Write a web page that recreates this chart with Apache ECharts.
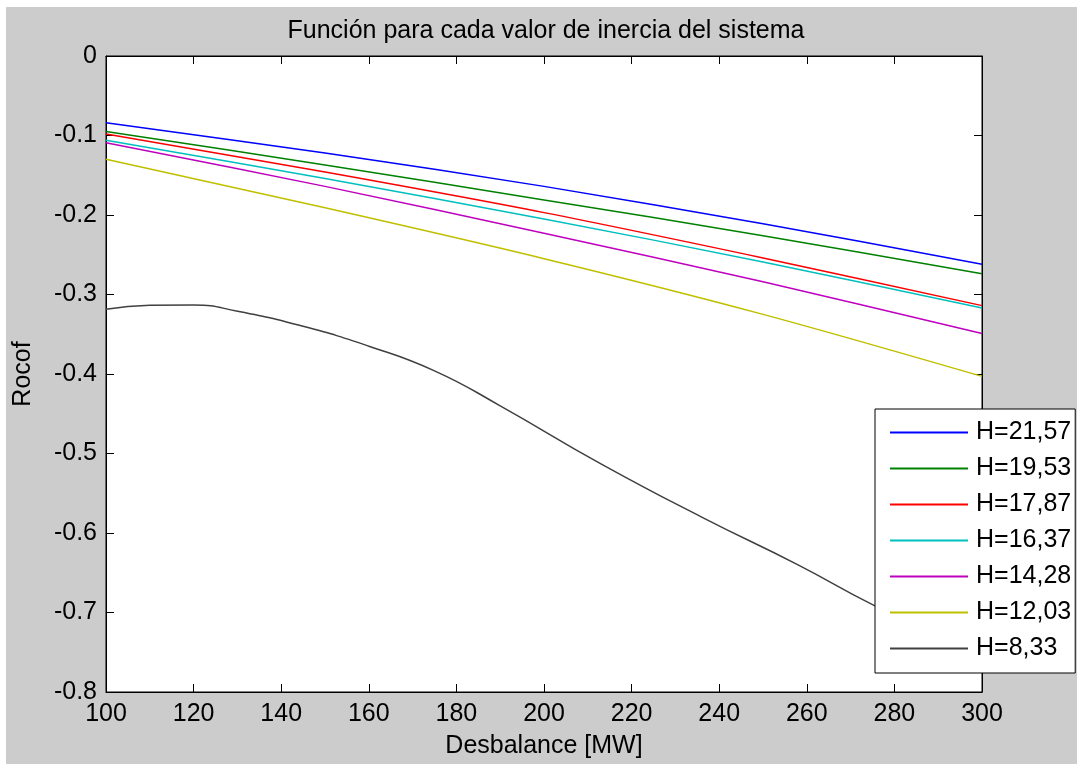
<!DOCTYPE html>
<html>
<head>
<meta charset="utf-8">
<script src="https://cdn.jsdelivr.net/npm/echarts@6/dist/echarts.min.js"></script>
<style>
  html, body { margin: 0; padding: 0; }
  #main { width: 1077px; height: 764px; }
</style>
</head>
<body>
<div id="main"></div>
<script>
// Desbalance [MW] en el que se leyeron las curvas
var desbalance = [100, 150, 200, 250, 300];
var h2157 = [-0.084, -0.122, -0.164, -0.211, -0.262];
var h1953 = [-0.095, -0.137, -0.181, -0.226, -0.274];
var h1787 = [-0.098, -0.146, -0.197, -0.254, -0.314];
var h1637 = [-0.106, -0.154, -0.205, -0.259, -0.317];
var h1428 = [-0.109, -0.164, -0.223, -0.284, -0.349];
var h1203 = [-0.130, -0.191, -0.255, -0.325, -0.403];

// curva H=8,33 (no lineal)
var desbalance833 = [100, 110, 120, 130, 145, 160, 175, 190, 213, 236, 258, 275, 300];
var h833 = [-0.3185, -0.3135, -0.3131, -0.321, -0.340, -0.365, -0.396, -0.440, -0.513, -0.580, -0.640, -0.690, -0.755];

var nombres = ['H=21,57', 'H=19,53', 'H=17,87', 'H=16,37', 'H=14,28', 'H=12,03', 'H=8,33'];
var colores = ['#0000ff', '#008000', '#ff0000', '#00bfbf', '#bf00bf', '#bfbf00', '#404040'];
var xTicks = [100, 120, 140, 160, 180, 200, 220, 240, 260, 280, 300];
var yTicks = [-0.8, -0.7, -0.6, -0.5, -0.4, -0.3, -0.2, -0.1, 0];

var fuente = 'Liberation Sans, Arial, sans-serif';
var tam = 25;

function pares(xs, ys) {
    var out = [];
    for (var i = 0; i < xs.length; i++) {
        out.push([xs[i], ys[i]]);
    }
    return out;
}

var curvas = [h2157, h1953, h1787, h1637, h1428, h1203];
var series = [];
for (var i = 0; i < curvas.length; i++) {
    series.push({
        name: nombres[i],
        type: 'line',
        data: pares(desbalance, curvas[i]),
        smooth: 0.3,
        symbol: 'none',
        lineStyle: { color: colores[i], width: 1.5 },
        itemStyle: { color: colores[i] }
    });
}
series.push({
    name: nombres[6],
    type: 'line',
    data: pares(desbalance833, h833),
    smooth: 0.5,
    symbol: 'none',
    lineStyle: { color: colores[6], width: 1.5 },
    itemStyle: { color: colores[6] }
});

var ejeX = {
    type: 'value',
    min: xTicks[0],
    max: xTicks[xTicks.length - 1],
    interval: 20,
    axisLine: { show: true, onZero: false, lineStyle: { color: '#000', width: 1 } },
    axisTick: { show: true, inside: true, length: 8, lineStyle: { color: '#000' } },
    splitLine: { show: false }
};
var ejeY = {
    type: 'value',
    min: yTicks[0],
    max: yTicks[yTicks.length - 1],
    interval: 0.1,
    axisLine: { show: true, onZero: false, lineStyle: { color: '#000', width: 1 } },
    axisTick: { show: true, inside: true, length: 8, lineStyle: { color: '#000' } },
    splitLine: { show: false }
};

var dom = document.getElementById('main');
var myChart = echarts.init(dom);
var option = {
    backgroundColor: '#cccccc',
    animation: false,
    textStyle: { fontFamily: fuente },
    graphic: [
        { type: 'rect', left: 0, top: 0, shape: { width: 1077, height: 7 }, style: { fill: '#fff' } },
        { type: 'rect', left: 0, top: 0, shape: { width: 6, height: 764 }, style: { fill: '#fff' } }
    ],
    title: {
        text: 'Función para cada valor de inercia del sistema',
        left: 541,
        textAlign: 'center',
        top: 14,
        textStyle: { fontFamily: fuente, fontSize: tam, fontWeight: 'normal', color: '#000' }
    },
    grid: {
        left: 106, top: 56, right: 95, bottom: 70,
        show: true, backgroundColor: '#fff', borderColor: '#000', borderWidth: 1
    },
    legend: {
        orient: 'vertical',
        left: 875,
        top: 409,
        width: 198,
        padding: [11, 4, 12, 15],
        icon: 'rect',
        itemWidth: 78,
        itemHeight: 2,
        itemGap: 11,
        backgroundColor: '#fff',
        borderColor: '#000',
        borderWidth: 1,
        borderRadius: 0,
        textStyle: { fontFamily: fuente, fontSize: tam, lineHeight: 25, color: '#000', padding: [0, 0, 0, 3] },
        data: nombres
    },
    xAxis: [
        echarts.util.merge({
            position: 'bottom',
            name: 'Desbalance [MW]',
            nameLocation: 'middle',
            nameGap: 42,
            nameTextStyle: { fontFamily: fuente, fontSize: tam, color: '#000' },
            axisLabel: { fontFamily: fuente, fontSize: tam, color: '#000', margin: 10 }
        }, ejeX, true),
        echarts.util.merge({ position: 'top', axisLabel: { show: false } }, ejeX, true)
    ],
    yAxis: [
        echarts.util.merge({
            position: 'left',
            name: 'Rocof',
            nameLocation: 'middle',
            nameRotate: 90,
            nameGap: 70,
            nameTextStyle: { fontFamily: fuente, fontSize: tam, color: '#000' },
            axisLabel: { fontFamily: fuente, fontSize: tam, color: '#000', margin: 9 }
        }, ejeY, true),
        echarts.util.merge({ position: 'right', axisLabel: { show: false } }, ejeY, true)
    ],
    series: series
};
myChart.setOption(option, true);
</script>
</body>
</html>
